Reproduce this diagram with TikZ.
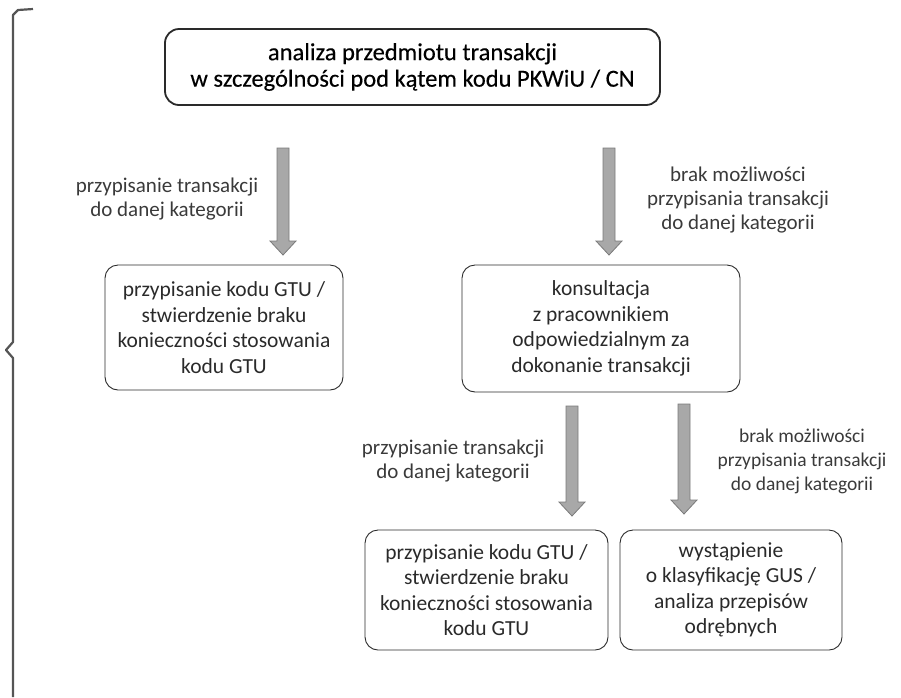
\documentclass[tikz,border=0pt]{standalone}
\usepackage{fontspec}
\setmainfont{Carlito}
\newfontfamily\titlefont{Carlito}[FakeBold=0.3]
\usetikzlibrary{calc}
\definecolor{ink}{HTML}{2A2A2A}
\definecolor{lblink}{HTML}{3A3A3A}
\definecolor{arrfill}{HTML}{A8A8A8}
\definecolor{arredge}{HTML}{7A7A7A}
\tikzset{
  box/.style={draw=ink, line width=0.9pt, rounded corners=13pt, align=center,
    text=ink, font=\fontsize{21.5}{25.5}\selectfont, inner sep=0pt},
  titlebox/.style={draw=ink, line width=1.8pt, rounded corners=14pt, align=center,
    text=black, font=\titlefont\fontsize{24.5}{26.5}\selectfont, inner sep=0pt},
  lbl/.style={align=center, text=lblink, font=\fontsize{21}{24}\selectfont, inner sep=0pt},
  lblsmall/.style={lbl, font=\fontsize{19.5}{24}\selectfont},
  barrow/.style={fill=arrfill, draw=arredge, line width=0.8pt, line join=miter},
  bracel/.style={draw=ink!80, line width=2.2pt}
}
\newcommand\blockarrow[2]{%
  \draw[barrow] ($(#1)+(-6,0)$) -- ($(#2)+(-6,-14)$) -- ($(#2)+(-13,-14)$) -- (#2)
    -- ($(#2)+(13,-14)$) -- ($(#2)+(6,-14)$) -- ($(#1)+(6,0)$) -- cycle;}
\begin{document}
\begin{tikzpicture}[x=1pt,y=-1pt]
\useasboundingbox (0,0) rectangle (901,697);
% brace
\draw[bracel, line join=round] (33,9) -- (18,10) -- (13,15) -- (13,342) -- (6,350) -- (13,358) -- (13,697);
% title
\node[titlebox, minimum width=495pt, minimum height=76pt] (title) at (412.5,67)
  {analiza przedmiotu transakcji\\ w szczególności pod kątem kodu PKWiU / CN};
% level 2 boxes
\node[box, minimum width=238pt, minimum height=125pt] (gtu1) at (224,327.5)
  {przypisanie kodu GTU /\\ stwierdzenie braku\\ konieczności stosowania\\ kodu GTU};
\node[box, minimum width=278pt, minimum height=127pt] (kons) at (601,328.5)
  {konsultacja\\ z pracownikiem\\ odpowiedzialnym za\\ dokonanie transakcji};
% level 3 boxes
\node[box, minimum width=243pt, minimum height=120pt] (gtu2) at (486.5,590)
  {przypisanie kodu GTU /\\ stwierdzenie braku\\ konieczności stosowania\\ kodu GTU};
\node[box, minimum width=222pt, minimum height=120pt] (wyst) at (731,590)
  {wystąpienie\\ o klasyfikację GUS /\\ analiza przepisów\\ odrębnych};
% arrow ends
\coordinate (a1s) at (283,148);
\coordinate (a1e) at (283,255);
\coordinate (a2s) at (609,148);
\coordinate (a2e) at (609,255);
\coordinate (a3s) at (572,406);
\coordinate (a3e) at (572,516);
\coordinate (a4s) at (684,404);
\coordinate (a4e) at (684,514);
\blockarrow{a1s}{a1e}
\blockarrow{a2s}{a2e}
\blockarrow{a3s}{a3e}
\blockarrow{a4s}{a4e}
% labels
\node[lbl] (l1) at (167,199) {przypisanie transakcji\\ do danej kategorii};
\node[lbl] (l2) at (738,200) {brak możliwości\\ przypisania transakcji\\ do danej kategorii};
\node[lbl] (l3) at (453,461) {przypisanie transakcji\\ do danej kategorii};
\node[lblsmall] (l4) at (802,461) {brak możliwości\\ przypisania transakcji\\ do danej kategorii};
\end{tikzpicture}
\end{document}
